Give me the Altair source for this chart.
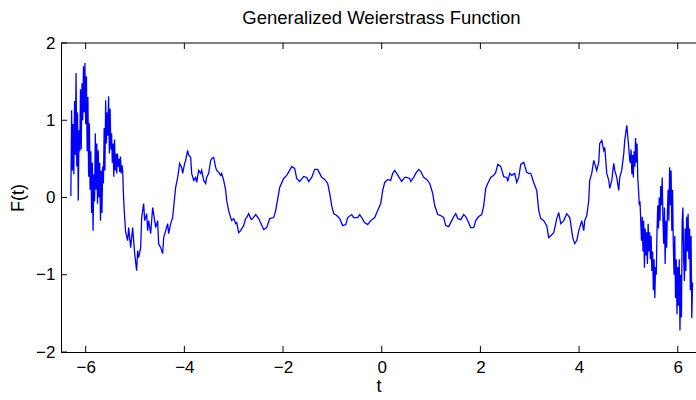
import altair as alt
import pandas as pd

# Generalized Weierstrass function F(t), sampled in three stretches:
# the rough left end, the smoother middle, and the rough right end.
left_t = [
    -6.300, -6.285, -6.270, -6.255, -6.240, -6.225, -6.210, -6.195, -6.180, -6.165,
    -6.150, -6.135, -6.120, -6.105, -6.090, -6.075, -6.060, -6.045, -6.030, -6.015,
    -6.000, -5.985, -5.970, -5.955, -5.940, -5.925, -5.910, -5.895, -5.880, -5.865,
    -5.850, -5.835, -5.820, -5.805, -5.790, -5.775, -5.760, -5.745, -5.730, -5.715,
    -5.700, -5.685, -5.670, -5.655, -5.640, -5.625, -5.610, -5.595, -5.580, -5.565,
    -5.550, -5.535, -5.520, -5.505, -5.490, -5.475, -5.460, -5.445, -5.430, -5.415,
    -5.400, -5.385, -5.370, -5.355, -5.340, -5.325, -5.310, -5.295, -5.280, -5.265,
    -5.250, -5.235, -5.220, -5.205,
]
left_f = [
    0.02, 1.13, 0.35, 0.95, 0.30, 1.25, 0.55, 1.61, 0.40, 1.10,
    -0.04, 0.87, 0.60, 1.40, 0.62, 1.48, 1.00, 1.70, 1.10, 1.74,
    0.95, 1.57, 0.60, 1.30, 0.27, 0.96, 0.10, 0.60, -0.20, 0.45,
    -0.43, 0.30, -0.05, 0.83, 0.10, 0.70, -0.08, 0.61, 0.00, 0.45,
    -0.30, 0.35, -0.20, 0.40, 0.18, 0.90, 0.35, 1.26, 0.70, 1.10,
    0.80, 1.31, 0.57, 1.15, 0.62, 0.83, 0.45, 0.70, 0.27, 0.75,
    0.35, 0.57, 0.31, 0.57, 0.40, 0.50, 0.33, 0.53, 0.31, 0.42,
    0.35, 0.05, -0.15, -0.30,
]

mid_t = [
    -5.190, -5.149, -5.129, -5.088, -5.048, -5.027, -5.007, -4.967, -4.946, -4.926,
    -4.885, -4.865, -4.845, -4.825, -4.804, -4.764, -4.744, -4.723, -4.683, -4.642,
    -4.622, -4.581, -4.541, -4.521, -4.480, -4.440, -4.419, -4.379, -4.338, -4.318,
    -4.277, -4.237, -4.217, -4.176, -4.135, -4.115, -4.095, -4.054, -4.034, -3.994,
    -3.973, -3.933, -3.913, -3.872, -3.852, -3.811, -3.771, -3.750, -3.710, -3.669,
    -3.649, -3.608, -3.568, -3.548, -3.507, -3.466, -3.446, -3.406, -3.365, -3.345,
    -3.304, -3.264, -3.243, -3.203, -3.162, -3.142, -3.102, -3.061, -3.041, -3.000,
    -2.960, -2.939, -2.899, -2.858, -2.838, -2.798, -2.757, -2.737, -2.696, -2.656,
    -2.635, -2.554, -2.493, -2.392, -2.331, -2.270, -2.189, -2.149, -2.088, -2.068,
    -1.987, -1.926, -1.865, -1.824, -1.764, -1.723, -1.662, -1.581, -1.520, -1.480,
    -1.419, -1.358, -1.297, -1.257, -1.216, -1.155, -1.095, -1.054, -1.014, -0.973,
    -0.912, -0.851, -0.791, -0.730, -0.689, -0.608, -0.568, -0.487, -0.446, -0.405,
    -0.345, -0.284, -0.223, -0.142, -0.081, -0.020, 0.020, 0.061, 0.122, 0.182,
    0.223, 0.264, 0.304, 0.365, 0.405, 0.466, 0.507, 0.568, 0.588, 0.649,
    0.689, 0.750, 0.791, 0.851, 0.912, 0.973, 1.034, 1.074, 1.135, 1.196,
    1.257, 1.297, 1.358, 1.419, 1.460, 1.500, 1.541, 1.601, 1.662, 1.703,
    1.743, 1.804, 1.865, 1.906, 1.966, 2.027, 2.068, 2.108, 2.149, 2.210,
    2.270, 2.311, 2.352, 2.412, 2.473, 2.534, 2.554, 2.595, 2.635, 2.696,
    2.737, 2.777, 2.818, 2.879, 2.939, 2.980, 3.020, 3.081, 3.142, 3.183,
    3.223, 3.284, 3.345, 3.385, 3.426, 3.487, 3.548, 3.588, 3.629, 3.689,
    3.750, 3.811, 3.831, 3.872, 3.912, 3.953, 3.994, 4.014, 4.054, 4.095,
    4.115, 4.156, 4.196, 4.216, 4.257, 4.298, 4.318, 4.358, 4.399, 4.419,
    4.460, 4.500, 4.521, 4.561, 4.602, 4.622, 4.663, 4.703, 4.723, 4.764,
    4.804, 4.825, 4.865, 4.906, 4.926, 4.967, 5.007, 5.027,
]
mid_f = [
    -0.450, -0.558, -0.390, -0.649, -0.390, -0.558, -0.727, -0.948, -0.688, -0.779,
    -0.649, -0.260, -0.169, -0.078, -0.299, -0.208, -0.429, -0.299, -0.468, -0.130,
    -0.208, -0.390, -0.299, -0.597, -0.649, -0.727, -0.519, -0.429, -0.338, -0.468,
    -0.338, -0.260, -0.130, 0.130, 0.260, 0.351, 0.442, 0.390, 0.312, 0.442,
    0.481, 0.610, 0.550, 0.519, 0.312, 0.221, 0.260, 0.195, 0.351, 0.312,
    0.351, 0.221, 0.182, 0.260, 0.312, 0.481, 0.506, 0.519, 0.390, 0.351,
    0.325, 0.286, 0.312, 0.221, 0.091, -0.039, -0.169, -0.260, -0.299, -0.273,
    -0.338, -0.325, -0.455, -0.429, -0.403, -0.364, -0.273, -0.260, -0.208, -0.273,
    -0.286, -0.221, -0.273, -0.416, -0.390, -0.273, -0.260, -0.169, 0.052, 0.130,
    0.247, 0.286, 0.351, 0.403, 0.377, 0.247, 0.208, 0.273, 0.260, 0.208,
    0.260, 0.364, 0.364, 0.312, 0.260, 0.234, 0.182, 0.052, -0.104, -0.208,
    -0.234, -0.273, -0.364, -0.351, -0.260, -0.221, -0.260, -0.260, -0.221, -0.260,
    -0.325, -0.351, -0.299, -0.260, -0.169, -0.078, 0.091, 0.195, 0.234, 0.221,
    0.312, 0.351, 0.312, 0.247, 0.208, 0.260, 0.260, 0.247, 0.208, 0.260,
    0.312, 0.364, 0.338, 0.260, 0.234, 0.182, 0.052, -0.104, -0.221, -0.234,
    -0.260, -0.364, -0.377, -0.299, -0.247, -0.208, -0.273, -0.286, -0.221, -0.247,
    -0.299, -0.390, -0.390, -0.299, -0.247, -0.221, -0.104, 0.117, 0.182, 0.260,
    0.286, 0.325, 0.429, 0.403, 0.270, 0.260, 0.208, 0.312, 0.286, 0.312,
    0.195, 0.260, 0.429, 0.455, 0.325, 0.312, 0.312, 0.195, 0.091, -0.169,
    -0.273, -0.299, -0.364, -0.519, -0.494, -0.455, -0.273, -0.195, -0.338, -0.299,
    -0.210, -0.260, -0.338, -0.519, -0.597, -0.558, -0.429, -0.390, -0.299, -0.429,
    -0.299, -0.234, -0.039, 0.221, 0.312, 0.481, 0.442, 0.351, 0.455, 0.701,
    0.740, 0.610, 0.649, 0.312, 0.221, 0.117, 0.221, 0.442, 0.351, 0.260,
    0.091, 0.260, 0.351, 0.571, 0.740, 0.935, 0.649, 0.480,
]

right_t = [
    5.040, 5.055, 5.070, 5.085, 5.100, 5.115, 5.130, 5.145, 5.160, 5.175,
    5.190, 5.205, 5.220, 5.235, 5.250, 5.265, 5.280, 5.295, 5.310, 5.325,
    5.340, 5.355, 5.370, 5.385, 5.400, 5.415, 5.430, 5.445, 5.460, 5.475,
    5.490, 5.505, 5.520, 5.535, 5.550, 5.565, 5.580, 5.595, 5.610, 5.625,
    5.640, 5.655, 5.670, 5.685, 5.700, 5.715, 5.730, 5.745, 5.760, 5.775,
    5.790, 5.805, 5.820, 5.835, 5.850, 5.865, 5.880, 5.895, 5.910, 5.925,
    5.940, 5.955, 5.970, 5.985, 6.000, 6.015, 6.030, 6.045, 6.060, 6.075,
    6.090, 6.105, 6.120, 6.135, 6.150, 6.165, 6.180, 6.195, 6.210, 6.225,
    6.240, 6.255, 6.270, 6.285, 6.300,
]
right_f = [
    0.45, 0.62, 0.30, 0.55, 0.26, 0.60, 0.40, 0.77, 0.45, 0.70,
    0.25, 0.10, -0.10, -0.05, -0.30, -0.56, -0.25, -0.70, -0.30, -0.91,
    -0.40, -0.75, -0.45, -0.86, -0.34, -0.70, -0.45, -0.80, -0.50, -0.95,
    -0.70, -1.20, -0.80, -1.30, -0.90, -1.00, -0.43, -0.10, -0.40, 0.00,
    -0.30, 0.15, -0.10, 0.26, -0.30, -0.60, -0.13, -0.86, -0.30, -0.65,
    -0.20, 0.10, -0.30, 0.39, -0.10, 0.35, -0.43, 0.10, -0.60, -1.00,
    -0.50, -1.30, -0.80, -1.51, -0.90, -1.40, -0.80, -1.72, -1.00, -1.55,
    -0.30, -0.13, -0.80, -1.08, -0.40, -0.95, -0.25, -0.70, -0.21, -0.80,
    -0.40, -1.20, -0.50, -1.56, -1.10,
]

x_ticks = [-6, -4, -2, 0, 2, 4, 6]
y_ticks = [-2, -1, 0, 1, 2]

FONT = "Liberation Sans"
W, H = 635, 309
TICK = 6

df = pd.DataFrame({
    "t": left_t + mid_t + right_t,
    "F": left_f + mid_f + right_f,
})
xt = pd.DataFrame({"v": x_ticks})
yt = pd.DataFrame({"v": y_ticks})

xs = alt.Scale(domain=[-6.5, 6.37], nice=False, zero=False)
ys = alt.Scale(domain=[-2, 2], nice=False, zero=False)

axis_style = dict(
    tickSize=0, grid=False, domainColor="black", domainWidth=1,
    labelFont=FONT, labelFontSize=17, labelColor="black",
    titleFont=FONT, titleFontSize=18, titleFontWeight="normal", titleColor="black",
)
xa = alt.Axis(values=x_ticks, title="t", labelPadding=7, titlePadding=2, **axis_style)
ya = alt.Axis(values=y_ticks, title="F(t)", labelPadding=6, titlePadding=8, **axis_style)

curve = alt.Chart(df).mark_line(color="#0000ff", strokeWidth=1.3, clip=True).encode(
    x=alt.X("t:Q", scale=xs, axis=xa),
    y=alt.Y("F:Q", scale=ys, axis=ya),
)

# inward-pointing tick marks on the bottom, top and left edges
bottom_ticks = alt.Chart(xt).mark_rule(color="black", strokeWidth=1).encode(
    x=alt.X("v:Q", scale=xs, axis=xa), y=alt.value(H), y2=alt.value(H - TICK)
)
top_ticks = alt.Chart(xt).mark_rule(color="black", strokeWidth=1).encode(
    x=alt.X("v:Q", scale=xs, axis=xa), y=alt.value(0), y2=alt.value(TICK)
)
left_ticks = alt.Chart(yt).mark_rule(color="black", strokeWidth=1).encode(
    y=alt.Y("v:Q", scale=ys, axis=ya), x=alt.value(0), x2=alt.value(TICK)
)
top_edge = alt.Chart(pd.DataFrame({"e": [0]})).mark_rule(color="black", strokeWidth=1).encode(
    x=alt.value(0), x2=alt.value(W), y=alt.value(0)
)

chart = (
    alt.layer(curve, bottom_ticks, top_ticks, left_ticks, top_edge)
    .properties(
        width=W, height=H,
        background="white",
        title=alt.TitleParams(
            "Generalized Weierstrass Function", font=FONT, fontSize=18.5,
            fontWeight="normal", color="black", anchor="middle",
            offset=7, dx=3,
        ),
        autosize=alt.AutoSizeParams(type="none"),
        padding={"left": 61, "top": 43, "right": 0, "bottom": 48},
    )
    .configure_view(stroke=None)
)

chart.save("out.html", embed_options={"renderer": "svg", "actions": False})
